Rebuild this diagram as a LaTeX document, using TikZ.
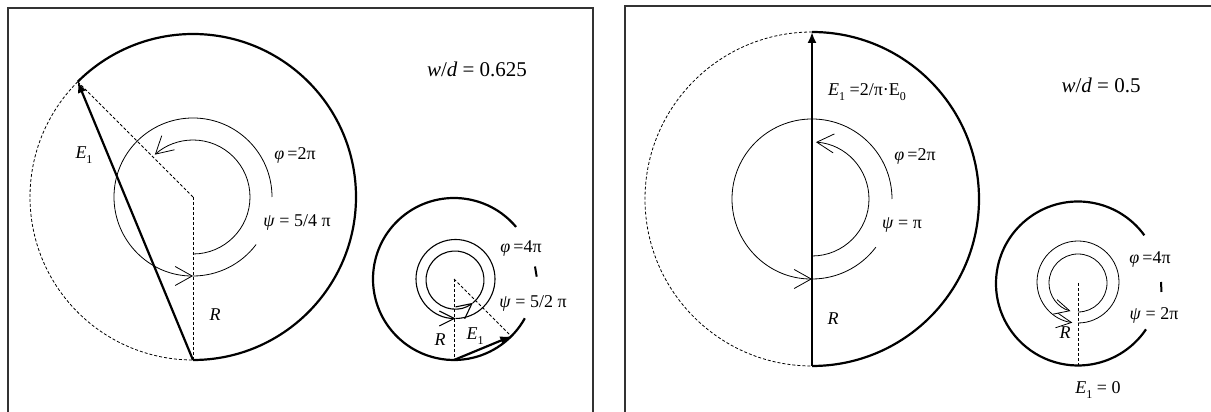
\documentclass[tikz,border=0pt]{standalone}
\usepackage{fontspec}
\setmainfont{Liberation Serif}
\usetikzlibrary{arrows.meta,calc}
\newcommand{\mysub}[1]{\raisebox{-0.28em}{\fontsize{12}{12}\selectfont #1}}
\tikzset{
  frame/.style={line width=1.6pt, draw=black!80},
  thickarc/.style={line width=2.2pt},
  dasharc/.style={line width=0.8pt, dash pattern=on 3pt off 2pt},
  thinarc/.style={line width=0.8pt},
  midarc/.style={line width=1.1pt},
  openarrow/.style={-{Straight Barb[length=17pt,width=19pt]}},
  smallopen/.style={-{Straight Barb[length=15pt,width=15pt]}},
  vec/.style={line width=2.2pt, -{Latex[length=11pt,width=9pt]}},
  lbl/.style={font=\fontsize{18}{18}\selectfont, inner sep=0pt},
  biglbl/.style={font=\fontsize{21}{21}\selectfont, inner sep=0pt},
  bar/.style={line width=2pt}
}
\begin{document}
\begin{tikzpicture}[x=1pt,y=1pt]
\useasboundingbox (0,0) rectangle (1211,412);
% frames
\draw[frame] (8,0) -- (8,404) -- (593,404) -- (593,0);
\draw[frame] (625,0) -- (625,406) -- (1211,406);

% ---------- left big diagram ----------
\coordinate (C1) at (193,215);
\coordinate (B1) at ($(C1)+(-90:163)$);
\coordinate (P1) at ($(C1)+(135:163)$);
\draw[thickarc] (B1) arc[start angle=-90,end angle=135,radius=163];
\draw[dasharc] (P1) arc[start angle=135,end angle=270,radius=163];
\draw[dasharc] (C1) -- (B1);
\draw[dasharc] (C1) -- (P1);
\draw[vec] (B1) -- (P1);
\draw[thinarc,openarrow] ($(C1)+(0:79)$) arc[start angle=0,end angle=270,radius=79];
\draw[thinarc] ($(C1)+(-90:79)$) arc[start angle=-90,end angle=-37,radius=79];
\draw[thinarc,openarrow] ($(C1)+(-90:57)$) arc[start angle=-90,end angle=132,radius=57];
\node[biglbl] (wd1) at (477,343) {\textit{w}/\textit{d} = 0.625};
\node[lbl] (e1a) at (84,257) {\textit{E}\mysub{1}};
\node[lbl] (phi1) at (295,257) {\textit{φ}\,=2π};
\node[lbl] (psi1) at (297,190) {\textit{ψ} = 5/4 π};
\node[lbl] (r1) at (215,97) {\textit{R}};

% ---------- left small diagram ----------
\coordinate (C2) at (454,133);
\coordinate (B2) at ($(C2)+(-90:81)$);
\coordinate (Q2) at ($(C2)+(-45:81)$);
\draw[thickarc] ($(C2)+(40:81)$) arc[start angle=40,end angle=331,radius=81];
\draw[dasharc] (C2) -- (B2);
\draw[dasharc] (C2) -- (Q2);
\draw[vec] (B2) -- (Q2);
\coordinate (C2a) at (455.5,133);
\coordinate (C2b) at (455,132);
\draw[midarc,smallopen] ($(C2a)+(-90:39.5)$) arc[start angle=-90,end angle=270,radius=39.5];
\draw[midarc,smallopen] ($(C2b)+(-52:29)$) arc[start angle=-52,end angle=308,radius=29];
\node[lbl] (phi2) at (521,164) {\textit{φ}\,=4π};
\coordinate (bar2a) at (535,145.5);
\coordinate (bar2b) at (536.7,135.3);
\draw[bar] (bar2a) -- (bar2b);
\node[lbl] (psi2) at (533,109) {\textit{ψ} = 5/2 π};
\node[lbl] (r2) at (440,72) {\textit{R}};
\node[lbl] (e1b) at (475,76) {\textit{E}\mysub{1}};

% ---------- right big diagram ----------
\coordinate (C3) at (812,213);
\coordinate (B3) at ($(C3)+(-90:167)$);
\coordinate (T3) at ($(C3)+(90:167)$);
\draw[thickarc] (B3) arc[start angle=-90,end angle=90,radius=167];
\draw[dasharc] (T3) arc[start angle=90,end angle=270,radius=167];
\draw[vec] (B3) -- (T3);
\draw[thinarc,openarrow] ($(C3)+(0:80)$) arc[start angle=0,end angle=270,radius=80];
\draw[thinarc] ($(C3)+(-90:80)$) arc[start angle=-90,end angle=-37,radius=80];
\draw[thinarc,openarrow] ($(C3)+(-90:57)$) arc[start angle=-90,end angle=86,radius=57];
\node[lbl] (e1c) at (867,320) {\textit{E}\mysub{1} =2/π·E\mysub{0}};
\node[lbl] (phi3) at (915,256) {\textit{φ}\,=2π};
\node[lbl] (psi3) at (902,187) {\textit{ψ} = π};
\node[lbl] (r3) at (833,93) {\textit{R}};
\node[biglbl] (wd2) at (1101,327) {\textit{w}/\textit{d} = 0.5};

% ---------- right small diagram ----------
\coordinate (C4) at (1078,128.5);
\coordinate (B4) at ($(C4)+(-90:82)$);
\draw[thickarc] ($(C4)+(36:82)$) arc[start angle=36,end angle=326,radius=82];
\coordinate (C4a) at (1078,130);
\coordinate (C4b) at (1078,129);
\draw[dasharc] (C4b) -- (B4);
\draw[thinarc,smallopen] ($(C4a)+(-90:41)$) arc[start angle=-90,end angle=262,radius=41];
\draw[thinarc,smallopen] ($(C4b)+(-90:29)$) arc[start angle=-90,end angle=255,radius=29];
\node[lbl] (phi4) at (1150,153) {\textit{φ}\,=4π};
\coordinate (bar4a) at (1161,130);
\coordinate (bar4b) at (1161.5,120);
\draw[bar] (bar4a) -- (bar4b);
\node[lbl] (psi4) at (1154,97) {\textit{ψ} = 2π};
\node[lbl] (r4) at (1065,79) {\textit{R}};
\node[lbl] (e1d) at (1098,22) {\textit{E}\mysub{1} = 0};
\end{tikzpicture}
\end{document}
